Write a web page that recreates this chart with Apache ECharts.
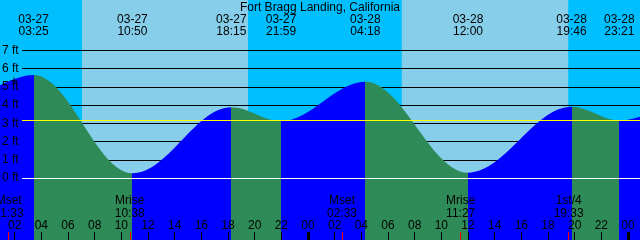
<!DOCTYPE html>
<html><head><meta charset="utf-8">
<script src="https://cdn.jsdelivr.net/npm/echarts@6/dist/echarts.min.js"></script>
<style>html,body{margin:0;padding:0;background:#00BFFF}#c{width:640px;height:240px}</style>
</head><body><div id="c"></div>
<script>
const chartTitle = 'Fort Bragg Landing, California';
const tideTimes = ['03-27 03:25','03-27 10:50','03-27 18:15','03-27 21:59','03-28 04:18','03-28 12:00','03-28 19:46','03-28 23:21'];
const tideHeights = [5.65, 0.26, 3.88, 3.12, 5.28, 0.29, 3.90, 3.15];
const edgeTimes = ['03-26 21:20', '03-29 05:10'];
const edgeHeights = [3.45, 4.90];
const sunriseTimes = ['03-27 07:03','03-28 07:02'];
const sunsetTimes = ['03-27 19:30','03-28 19:31'];
const moonTimes = ['03-27 01:33','03-27 10:38','03-28 02:33','03-28 11:27','03-28 19:33'];
const moonEvents = ['Mset','Mrise','Mset','Mrise','1st/4'];
const hourTicks = [2,4,6,8,10,12,14,16,18,20,22,24,26,28,30,32,34,36,38,40,42,44,46,48];
const midnightTicks = [24,48];
const depthTicks = [0,1,2,3,4,5,6,7];
const meanLevel = 3.16;
const datumLevel = 0;
const markerTime = '03-27 01:57';
const markerHeight = 5.33;
const xMin = 0.9, xMax = 48.9, yMin = -3.4, yMax = 9.76;

const FONT = '"Liberation Sans", Arial, sans-serif';
function toH(s){ const p=s.split(' '); const d=+p[0].split('-')[1]-27; const t=p[1].split(':').map(Number); return d*24+t[0]+t[1]/60; }
function pad(n){ n=Math.round(n); return (n<10?'0':'')+n; }
function nearest(arr, v){ let bi=0, bd=1e9; arr.forEach((a,i)=>{const d=Math.abs(a-v); if(d<bd){bd=d;bi=i;}}); return bi; }

const tideH = tideTimes.map(toH);
const moonH = moonTimes.map(toH);
const allPts = [[toH(edgeTimes[0]), edgeHeights[0]]]
  .concat(tideH.map((h,i)=>[h, tideHeights[i]]))
  .concat([[toH(edgeTimes[1]), edgeHeights[1]]]);
const pieces = [];
for (let i=0;i<allPts.length-1;i++){
  pieces.push({gte: allPts[i][0], lt: allPts[i+1][0], color: allPts[i+1][1] > allPts[i][1] ? '#0000FF' : '#2E8B57'});
}
const txt = {fontSize:12, color:'#000', fontFamily:FONT};
const noLine = {show:false, onZero:false};

const chart = echarts.init(document.getElementById('c'), null, {renderer:'canvas'});
chart.setOption({
  backgroundColor:'#00BFFF',
  animation:false,
  textStyle:{fontFamily:FONT},
  title:{text:chartTitle, left:'center', top:1, padding:0, z:20,
    textStyle:Object.assign({fontWeight:'normal', lineHeight:14}, txt)},
  grid:[
    {left:0,right:0,top:0,bottom:0,containLabel:false,outerBoundsMode:'none'},
    {left:22,right:0,top:0,bottom:0,containLabel:false,outerBoundsMode:'none'}
  ],
  xAxis:[
    {type:'value', gridIndex:0, min:xMin, max:xMax, position:'bottom', z:10, axisLine:noLine, splitLine:{show:false},
     axisTick:{show:true, inside:true, length:8, customValues:hourTicks, lineStyle:{color:'#000', width:1}},
     axisLabel:Object.assign({show:true, inside:true, margin:8, lineHeight:12, customValues:hourTicks, formatter:v=>pad(v%24)}, txt)},
    {type:'value', gridIndex:0, min:xMin, max:xMax, position:'bottom', z:10, axisLine:noLine, splitLine:{show:false},
     axisTick:{show:true, inside:true, length:8, customValues:midnightTicks, lineStyle:{color:'#000', width:3}},
     axisLabel:{show:false}},
    {type:'value', gridIndex:0, min:xMin, max:xMax, position:'bottom', z:10, axisLine:noLine, splitLine:{show:false},
     axisTick:{show:true, inside:true, length:8, customValues:moonH, lineStyle:{color:'#FF0000', width:1}},
     axisLabel:Object.assign({show:true, inside:true, margin:20, lineHeight:13, customValues:moonH,
       formatter:v=>{const i=nearest(moonH,v); return moonEvents[i]+'\n'+moonTimes[i].split(' ')[1];}}, txt)},
    {type:'value', gridIndex:0, min:xMin, max:xMax, position:'top', z:10, axisLine:noLine, splitLine:{show:false},
     axisTick:{show:false, customValues:tideH},
     axisLabel:Object.assign({show:true, inside:true, margin:14, lineHeight:12, customValues:tideH,
       formatter:v=>{const i=nearest(tideH,v); return tideTimes[i].replace(' ','\n');}}, txt)},
    {type:'value', gridIndex:1, min:0, max:1, position:'bottom', show:false, axisLine:noLine, splitLine:{show:false}}
  ],
  yAxis:[
    {type:'value', gridIndex:0, min:yMin, max:yMax, position:'left', z:10, axisLine:noLine, splitLine:{show:false},
     axisTick:{show:false, customValues:depthTicks},
     axisLabel:Object.assign({show:true, inside:true, margin:2, customValues:depthTicks, formatter:'{value} ft'}, txt)},
    {type:'value', gridIndex:1, min:yMin, max:yMax, position:'left', z:1.5, axisLine:noLine, axisLabel:{show:false},
     axisTick:{show:false, customValues:depthTicks}, splitLine:{show:true, lineStyle:{color:'#000', width:1}}},
    {type:'value', gridIndex:1, min:yMin, max:yMax, position:'left', z:5, axisLine:noLine, axisLabel:{show:false},
     axisTick:{show:false, customValues:[datumLevel]}, splitLine:{show:true, lineStyle:{color:'#FFFFFF', width:1}}},
    {type:'value', gridIndex:1, min:yMin, max:yMax, position:'left', z:5, axisLine:noLine, axisLabel:{show:false},
     axisTick:{show:false, customValues:[meanLevel]}, splitLine:{show:true, lineStyle:{color:'#FFFF00', width:1}}}
  ],
  visualMap:{type:'piecewise', show:false, dimension:0, seriesIndex:0, pieces:pieces, outOfRange:{color:'#0000FF'}},
  series:[
    {type:'line', xAxisIndex:0, yAxisIndex:0, data:allPts, smooth:0.36, smoothMonotone:'x', showSymbol:false, symbol:'none',
     lineStyle:{width:0}, areaStyle:{opacity:1, origin:'start'}, z:2, silent:true,
     markArea:{silent:true, z:1, itemStyle:{color:'#87CEEB', opacity:1, borderWidth:0},
       data:sunriseTimes.map((s,i)=>[{xAxis:toH(s)},{xAxis:toH(sunsetTimes[i])}])}},
    {type:'scatter', xAxisIndex:0, yAxisIndex:0, data:[[toH(markerTime), markerHeight]],
     symbol:'path://M0,3H7V4H0Z M3,0H4V7H3Z', symbolSize:7, itemStyle:{color:'#000'}, z:20, silent:true}
  ]
});
</script></body></html>
